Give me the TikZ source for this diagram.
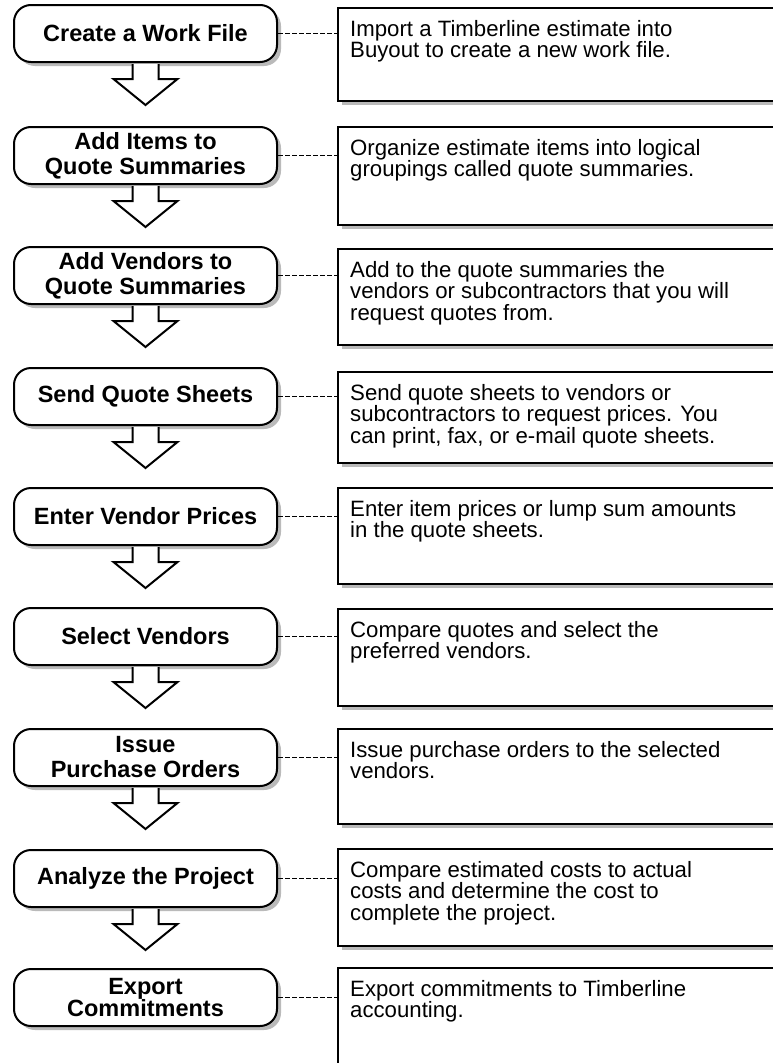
\documentclass[tikz,border=0pt]{standalone}
\usepackage{fontspec}
\setmainfont{Liberation Sans}
\usetikzlibrary{shadows,calc}
\begin{document}
\begin{tikzpicture}[x=1pt,y=-1pt,
  stepbox/.style={draw=black, line width=2pt, fill=white, rounded corners=17pt,
    minimum width=263pt, minimum height=57pt, inner sep=0pt, align=center,
    font=\bfseries\fontsize{23.5}{25}\selectfont,
    drop shadow={shadow xshift=4pt, shadow yshift=-4pt, fill=black!27, opacity=1}},
  descbox/.style={draw=black, line width=2pt, fill=white, minimum width=460pt,
    anchor=north west, inner sep=0pt,
    drop shadow={shadow xshift=4pt, shadow yshift=-4pt, fill=black!27, opacity=1}},
  desctext/.style={anchor=north west, inner sep=0pt, align=left,
    font=\fontsize{22.2}{21.7}\selectfont},
  link/.style={line width=1.5pt, dash pattern=on 4.5pt off 2.5pt},
  flowshadow/.style={fill=black!27, draw=none}
]
\useasboundingbox (0,0) rectangle (773,1063);
\clip (0,0) rectangle (773,1063);

% left step boxes
\node[stepbox] (s1) at (145.5,33.5) {Create a Work File};
\node[stepbox] (s2) at (145.5,155.5) {Add Items to\\Quote Summaries};
\node[stepbox] (s3) at (145.5,275.5) {Add Vendors to\\Quote Summaries};
\node[stepbox] (s4) at (145.5,396.5) {Send Quote Sheets};
\node[stepbox] (s5) at (145.5,516.5) {Enter Vendor Prices};
\node[stepbox] (s6) at (145.5,636.5) {Select Vendors};
\node[stepbox] (s7) at (145.5,757.5) {Issue\\Purchase Orders};
\node[stepbox] (s8) at (145.5,878.5) {Analyze the Project};
\node[stepbox, font=\bfseries\fontsize{23.5}{18.5}\selectfont] (s9) at (145.5,997.5) {Export\\Commitments};

% right description boxes
\node[descbox, minimum height=93pt] (d1) at (337,7) {};
\node[descbox, minimum height=98pt] (d2) at (337,126) {};
\node[descbox, minimum height=96pt] (d3) at (337,248) {};
\node[descbox, minimum height=91pt] (d4) at (337,371) {};
\node[descbox, minimum height=96pt] (d5) at (337,487) {};
\node[descbox, minimum height=97pt] (d6) at (337,608) {};
\node[descbox, minimum height=95pt] (d7) at (337,728) {};
\node[descbox, minimum height=97pt] (d8) at (337,848) {};
\node[descbox, minimum height=110pt] (d9) at (337,967) {};

\node[desctext] (t1) at ($(d1.north west)+(13,13)$) {Import a Timberline estimate into\\Buyout to create a new work file.};
\node[desctext] (t2) at ($(d2.north west)+(13,13)$) {Organize estimate items into logical\\groupings called quote summaries.};
\node[desctext] (t3) at ($(d3.north west)+(13,13)$) {Add to the quote summaries the\\vendors or subcontractors that you will\\request quotes from.};
\node[desctext] (t4) at ($(d4.north west)+(13,13)$) {Send quote sheets to vendors or\\subcontractors to request prices. You\\can print, fax, or e-mail quote sheets.};
\node[desctext] (t5) at ($(d5.north west)+(13,13)$) {Enter item prices or lump sum amounts\\in the quote sheets.};
\node[desctext] (t6) at ($(d6.north west)+(13,13)$) {Compare quotes and select the\\preferred vendors.};
\node[desctext] (t7) at ($(d7.north west)+(13,13)$) {Issue purchase orders to the selected\\vendors.};
\node[desctext] (t8) at ($(d8.north west)+(13,13)$) {Compare estimated costs to actual\\costs and determine the cost to\\complete the project.};
\node[desctext] (t9) at ($(d9.north west)+(13,13)$) {Export commitments to Timberline\\accounting.};

% dashed links
\foreach \i in {1,...,9}{
  \draw[link] (s\i.east) -- (s\i.east -| d\i.west);
}

% block arrows between steps
\foreach \i in {1,...,8}{
  \fill[flowshadow, shift={(4,4)}]
    ($(s\i.south)+(-13,1)$) -- ++(0,15) -- ++(-19,0) -- ($(s\i.south)+(0,42)$)
    -- ($(s\i.south)+(32,16)$) -- ++(-19,0) -- ($(s\i.south)+(13,1)$) -- cycle;
  \fill[white]
    ($(s\i.south)+(-13,1)$) -- ++(0,15) -- ++(-19,0) -- ($(s\i.south)+(0,42)$)
    -- ($(s\i.south)+(32,16)$) -- ++(-19,0) -- ($(s\i.south)+(13,1)$) -- cycle;
  \draw[line width=2pt, line join=miter]
    ($(s\i.south)+(-13,1)$) -- ++(0,15) -- ++(-19,0) -- ($(s\i.south)+(0,42)$)
    -- ($(s\i.south)+(32,16)$) -- ++(-19,0) -- ($(s\i.south)+(13,1)$);
}
\end{tikzpicture}
\end{document}
